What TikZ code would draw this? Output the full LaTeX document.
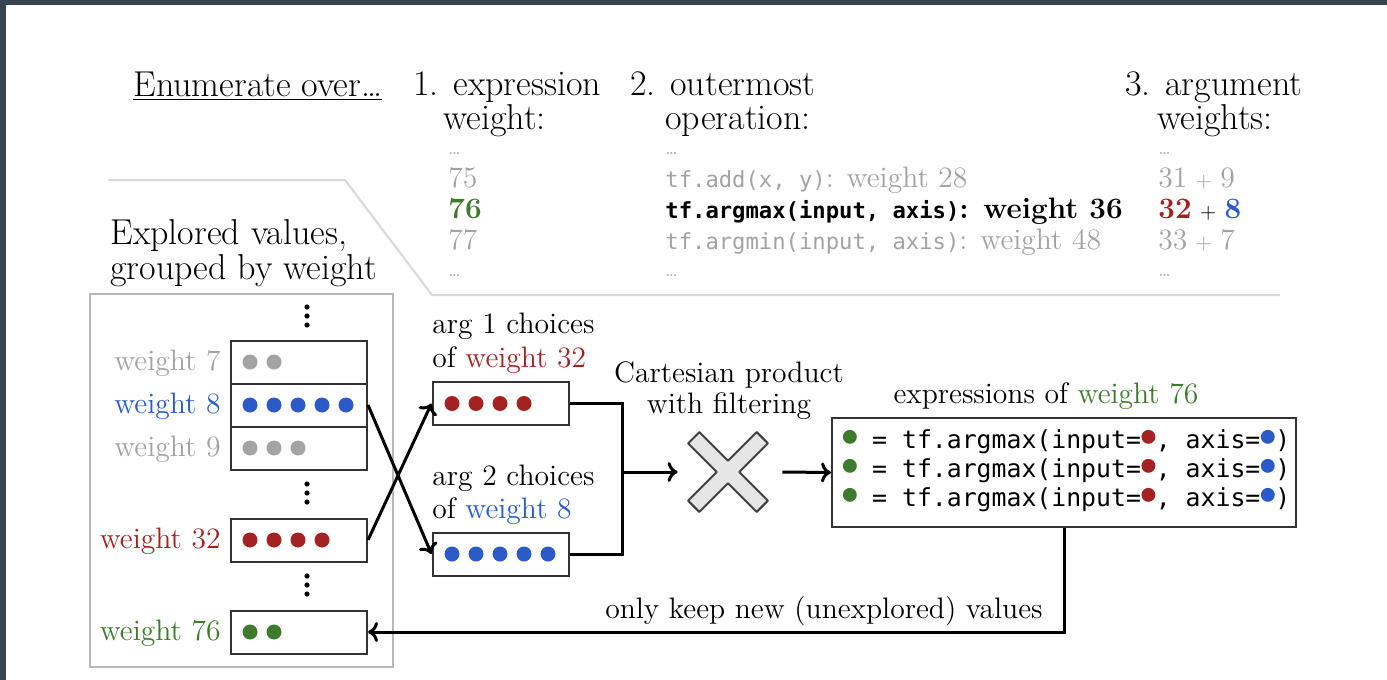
\documentclass[tikz,border=0pt]{standalone}
\usepackage{fontspec}
\setmonofont{DejaVu Sans Mono}
\usetikzlibrary{arrows.meta}

\definecolor{frame}{HTML}{36454F}
\definecolor{vred}{HTML}{A32222}
\definecolor{vblue}{HTML}{2A5BC9}
\definecolor{vgreen}{HTML}{3F7B2D}
\definecolor{faint}{HTML}{A3A3A3}
\definecolor{rulegray}{HTML}{D8D8D8}
\definecolor{panelgray}{HTML}{B8B8B8}
\definecolor{boxline}{HTML}{333333}
\definecolor{crossfill}{HTML}{E6E6E6}

\newcommand{\bigfont}{\fontsize{18}{21}\selectfont}
\newcommand{\midfont}{\fontsize{14.8}{17}\selectfont}
\newcommand{\codefont}{\fontsize{11.1}{13}\selectfont\ttfamily}
\newcommand{\exprfont}{\fontsize{12.4}{14}\selectfont\ttfamily}
% a small plus sign between two argument weights
\newcommand{\plus}{\hspace{0.28em}{\fontsize{10.5}{12}\selectfont +}\hspace{0.28em}}
% a value placeholder: a coloured disc one monospace cell wide
\newcommand{\valdot}[1]{\tikz[baseline=0pt]{\path (0,0) rectangle (0.6em,0.1em);\fill[#1] (0.3em,0.45em) circle (0.28em);}}

\begin{document}
\begin{tikzpicture}[x=0.5pt,y=-0.5pt,
  head/.style={inner sep=0pt, font=\bigfont, anchor=base west},
  lbl/.style={inner sep=0pt, font=\midfont},
  row/.style={inner sep=0pt, font=\midfont, anchor=base west},
  ell/.style={inner sep=0pt, font=\fontsize{9}{10}\selectfont, text=faint, anchor=base west},
  valbox/.style={draw=boxline, line width=1pt, minimum width=68pt, minimum height=21.5pt, inner sep=0pt},
  wire/.style={line width=1.5pt},
  flow/.style={line width=1.5pt, -{Computer Modern Rightarrow[length=5pt,width=10pt]}},
]
\path[use as bounding box] (0,0) rectangle (1387,680);
\fill[white] (0,0) rectangle (1387,680);
\fill[frame] (0,0) rectangle (1387,5);
\fill[frame] (0,0) rectangle (6,680);

% ---- enumeration table ----
\node[head] (enum) at (133,96) {\underline{Enumerate over…}};
\node[head] (h1a) at (413,95) {1. expression};
\node[head] (h1b) at (443,129) {weight:};
\node[head] (h2a) at (630,95) {2. outermost};
\node[head] (h2b) at (665,129) {operation:};
\node[head] (h3a) at (1125,95) {3. argument};
\node[head] (h3b) at (1157,129) {weights:};

\node[ell] (e1t) at (448,154) {…};
\node[ell] (e2t) at (665,154) {…};
\node[ell] (e3t) at (1158,154) {…};
\node[ell] (e1b) at (448,276) {…};
\node[ell] (e2b) at (665,276) {…};
\node[ell] (e3b) at (1158,276) {…};

\node[row, text=faint] (w75) at (448,187) {75};
\node[row, text=vgreen] (w76t) at (448,218) {\textbf{76}};
\node[row, text=faint] (w77) at (448,249) {77};

\node[row, text=faint] (opadd) at (665,187) {{\codefont tf.add(x, y)}: weight 28};
\node[row] (opmax) at (665,218) {{\codefont\bfseries tf.argmax(input, axis)}\textbf{: weight 36}};
\node[row, text=faint] (opmin) at (665,249) {{\codefont tf.argmin(input, axis)}: weight 48};

\node[row, text=faint] (aw1) at (1158,187) {31\plus 9};
\node[row] (aw2) at (1158,218) {\textbf{\textcolor{vred}{32}}\plus\textbf{\textcolor{vblue}{8}}};
\node[row, text=faint] (aw3) at (1158,249) {33\plus 7};

\draw[rulegray, line width=1pt] (108,180) -- (345,180) -- (432,295) -- (1280,295);

% ---- explored values ----
\node[head] (expl1) at (110,244) {Explored values,};
\node[head] (expl2) at (110,279) {grouped by weight};
\node[draw=panelgray, line width=1pt, inner sep=0pt, minimum width=151.5pt, minimum height=186.5pt] (panel) at (241.5,480.5) {};

\node[valbox] (w7) at (299,362) {};
\node[valbox] (w8) at (299,405) {};
\node[valbox] (w9) at (299,448) {};
\node[valbox] (w32) at (299,540) {};
\node[valbox] (w76) at (299,632) {};

\node[lbl, anchor=base east, text=faint] (l7) at (221,370) {weight 7};
\node[lbl, anchor=base east, text=vblue] (l8) at (221,413) {weight 8};
\node[lbl, anchor=base east, text=faint] (l9) at (221,456) {weight 9};
\node[lbl, anchor=base east, text=vred] (l32) at (221,548) {weight 32};
\node[lbl, anchor=base east, text=vgreen] (l76) at (221,640) {weight 76};

\foreach \i in {0,1} \fill[faint] (250+24*\i,362) circle (3.75pt);
\foreach \i in {0,...,4} \fill[vblue] (250+24*\i,405) circle (3.75pt);
\foreach \i in {0,...,2} \fill[faint] (250+24*\i,448) circle (3.75pt);
\foreach \i in {0,...,3} \fill[vred] (250+24*\i,540) circle (3.75pt);
\foreach \i in {0,1} \fill[vgreen] (250+24*\i,632) circle (3.75pt);

\foreach \y in {316,493,585}
  \foreach \d in {-9,0,9} \fill[black] (307,\y+\d) circle (1.3pt);

% ---- argument choices ----
\node[lbl, anchor=base west] (a1t) at (432,333) {arg 1 choices};
\node[lbl, anchor=base west] (a1w) at (432,367) {of \textcolor{vred}{weight 32}};
\node[lbl, anchor=base west] (a2t) at (432,485) {arg 2 choices};
\node[lbl, anchor=base west] (a2w) at (432,518) {of \textcolor{vblue}{weight 8}};

\node[valbox] (a1) at (500.5,403.5) {};
\node[valbox] (a2) at (500.5,554) {};
\foreach \i in {0,...,3} \fill[vred] (452+24*\i,403.5) circle (3.75pt);
\foreach \i in {0,...,4} \fill[vblue] (452+24*\i,554) circle (3.75pt);

\draw[flow] (w8.east) -- (a2.west);
\draw[flow] (w32.east) -- (a1.west);

% ---- cartesian product ----
\coordinate (join) at (622,472);
\draw[wire] (a1.east) -| (join) |- (a2.east);

\node[lbl, anchor=base] (cp1) at (729,382) {Cartesian product};
\node[lbl, anchor=base] (cp2) at (729,413) {with filtering};

\node[inner sep=0pt, minimum size=50pt] (cross) at (728,472) {};
\begin{scope}[shift={(cross.center)}, rotate=45]
  \filldraw[fill=crossfill, draw=black!75, line width=1pt, line join=round]
    (8,8) -- (48.5,8) -- (48.5,-8) -- (8,-8) -- (8,-48.5) -- (-8,-48.5) -- (-8,-8)
    -- (-48.5,-8) -- (-48.5,8) -- (-8,8) -- (-8,48.5) -- (8,48.5) -- cycle;
\end{scope}
\draw[flow] (join) -- (cross.west);

% ---- generated expressions ----
\node[lbl, anchor=base] (exlbl) at (1046,403) {expressions of \textcolor{vgreen}{weight 76}};
\node[draw=boxline, line width=1pt, minimum width=232pt, minimum height=54.5pt, inner sep=0pt] (ex) at (1064,472.5) {};
\node[inner sep=0pt, font=\exprfont, anchor=base west] (r1) at (842,448)
  {\valdot{vgreen} = tf.argmax(input=\valdot{vred}, axis=\valdot{vblue})};
\node[inner sep=0pt, font=\exprfont, anchor=base west] (r2) at (842,477)
  {\valdot{vgreen} = tf.argmax(input=\valdot{vred}, axis=\valdot{vblue})};
\node[inner sep=0pt, font=\exprfont, anchor=base west] (r3) at (842,506)
  {\valdot{vgreen} = tf.argmax(input=\valdot{vred}, axis=\valdot{vblue})};
\draw[flow] ([xshift=2pt]cross.east) -- (ex.west);

% ---- feedback into the explored set ----
\draw[flow] (ex.south) |- (w76.east);
\node[lbl, anchor=base east] (keep) at (1043,618) {only keep new (unexplored) values};
\end{tikzpicture}
\end{document}
